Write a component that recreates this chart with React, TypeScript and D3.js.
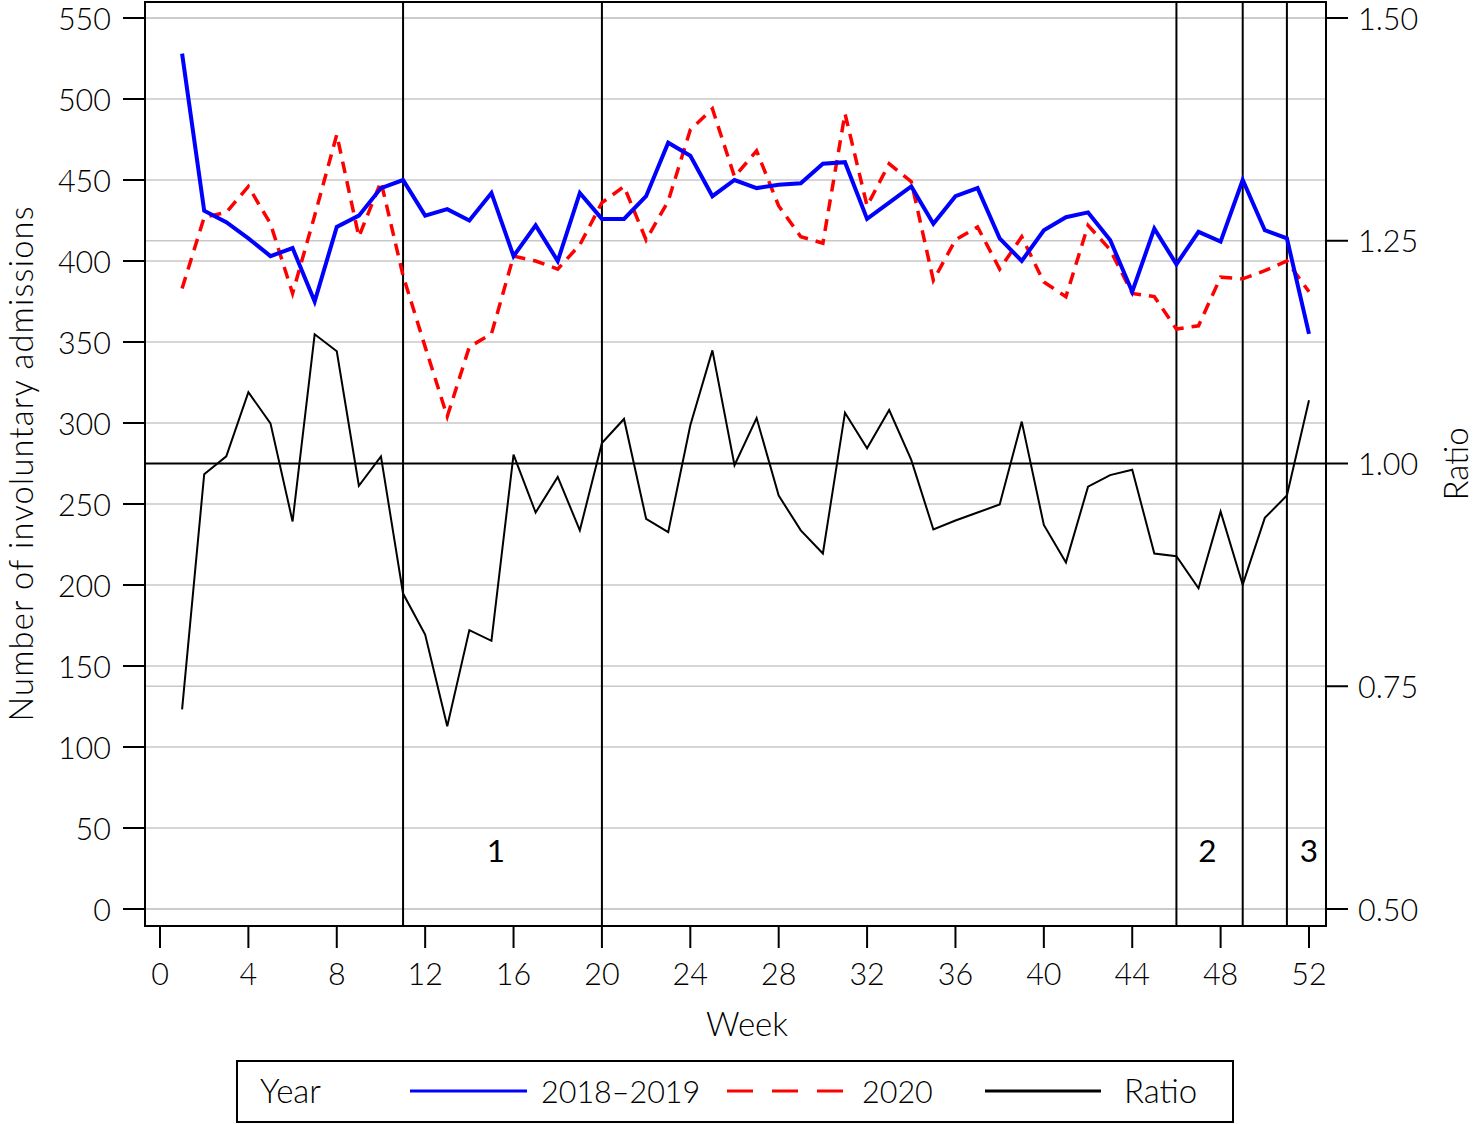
import React from "react";
import * as d3 from "d3";

const weeks = [1,2,3,4,5,6,7,8,9,10,11,12,13,14,15,16,17,18,19,20,21,22,23,24,25,26,27,28,29,30,31,32,33,34,35,36,37,38,39,40,41,42,43,44,45,46,47,48,49,50,51,52];
const admissions1819 = [528,431,424,414,403,408,375,421,428,445,450,428,432,425,442,403,422,400,442,426,426,440,473,465,440,450,445,447,448,460,461,426,436,446,423,440,445,414,400,419,427,430,413,381,420,398,418,412,450,419,414,355];
const admissions2020 = [383,427,430,446,423,380,428,478,415,449,391,347,304,347,355,403,400,395,410,436,446,413,437,481,494,452,468,434,415,411,491,434,460,449,388,413,421,395,415,387,378,422,407,380,378,358,360,390,389,394,400,381];
const ratio = [0.724,0.988,1.008,1.080,1.045,0.935,1.145,1.126,0.975,1.008,0.854,0.808,0.705,0.813,0.801,1.010,0.945,0.985,0.925,1.023,1.050,0.938,0.923,1.043,1.127,0.998,1.051,0.964,0.925,0.899,1.057,1.017,1.060,1.004,0.926,0.936,0.945,0.954,1.047,0.931,0.889,0.974,0.987,0.993,0.899,0.896,0.860,0.946,0.864,0.939,0.964,1.071];
const leftTicks = [0,50,100,150,200,250,300,350,400,450,500,550];
const rightTicks = [0.5,0.75,1.0,1.25,1.5];
const rightTickLabels = ["0.50","0.75","1.00","1.25","1.50"];
const xTicks = [0,4,8,12,16,20,24,28,32,36,40,44,48,52];
const periodBreaks = [11,20,46,49,51];
const periodLabels = ["1","2","3"];
const periodLabelWeeks = [15.2,47.4,52];
const legendLabels = ["2018\u20132019","2020","Ratio"];

const FONT = "Lato, 'Noto Sans', sans-serif";
const FS = 33; // words
const FN = 30.5; // numbers
const FW = 300;

export default function App() {
  const W = 1478, H = 1124;
  const frame = { l: 145, r: 1326, t: 2, b: 926 };
  const x = d3.scaleLinear().domain([0, 52]).range([160, 1309]);
  const yL = d3.scaleLinear().domain([0, 550]).range([909, 18]);
  const yR = d3.scaleLinear().domain([0.5, 1.5]).range([909, 18]);

  const lineL = (vals: number[]) =>
    d3.line<number>().x((_, i) => x(weeks[i])).y((d) => yL(d))(vals) || "";
  const lineR = d3.line<number>().x((_, i) => x(weeks[i])).y((d) => yR(d))(ratio) || "";

  const legendY = 1091;

  return (
    <svg
      width={W}
      height={H}
      style={{ position: "absolute", left: 0, top: 0, background: "#fff" }}
      fontFamily={FONT}
      fontWeight={FW}
    >
      <rect x={0} y={0} width={W} height={H} fill="#fff" />
      {/* gridlines */}
      {leftTicks.map((t) => (
        <line key={"gl" + t} x1={frame.l} x2={frame.r} y1={yL(t)} y2={yL(t)} stroke="#c8c8c8" strokeWidth={1.5} />
      ))}
      {rightTicks.filter((t) => t !== 1).map((t) => (
        <line key={"gr" + t} x1={frame.l} x2={frame.r} y1={yR(t)} y2={yR(t)} stroke="#c8c8c8" strokeWidth={1.5} />
      ))}
      {/* reference line ratio = 1 */}
      <line x1={frame.l} x2={frame.r} y1={yR(1)} y2={yR(1)} stroke="#000" strokeWidth={2} />
      {/* period breaks */}
      {periodBreaks.map((w) => (
        <line key={"pb" + w} x1={x(w)} x2={x(w)} y1={frame.t} y2={frame.b} stroke="#000" strokeWidth={2} />
      ))}
      {periodLabels.map((l, i) => (
        <text key={"pl" + l} x={x(periodLabelWeeks[i])} y={862} fontSize={FN + 1} fontWeight={400} textAnchor="middle" fill="#000">
          {l}
        </text>
      ))}
      {/* series */}
      <path d={lineR} fill="none" stroke="#000" strokeWidth={2} strokeLinejoin="miter" />
      <path d={lineL(admissions2020)} fill="none" stroke="#ff0000" strokeWidth={3.5} strokeDasharray="12,8" />
      <path d={lineL(admissions1819)} fill="none" stroke="#0000ff" strokeWidth={4} strokeLinejoin="miter" />
      {/* frame */}
      <rect x={frame.l} y={frame.t} width={frame.r - frame.l} height={frame.b - frame.t} fill="none" stroke="#000" strokeWidth={2} />
      {/* left axis */}
      {leftTicks.map((t) => (
        <g key={"lt" + t}>
          <line x1={frame.l - 22} x2={frame.l} y1={yL(t)} y2={yL(t)} stroke="#000" strokeWidth={2} />
          <text x={111} y={yL(t) + 11.5} fontSize={FN} textAnchor="end" fill="#000">
            {t}
          </text>
        </g>
      ))}
      {/* right axis */}
      {rightTicks.map((t, i) => (
        <g key={"rt" + t}>
          <line x1={frame.r} x2={frame.r + 22} y1={yR(t)} y2={yR(t)} stroke="#000" strokeWidth={2} />
          <text x={1358} y={yR(t) + 11.5} fontSize={FN} textAnchor="start" fill="#000">
            {rightTickLabels[i]}
          </text>
        </g>
      ))}
      {/* x axis */}
      {xTicks.map((t) => (
        <g key={"xt" + t}>
          <line x1={x(t)} x2={x(t)} y1={frame.b} y2={frame.b + 22} stroke="#000" strokeWidth={2} />
          <text x={x(t)} y={985} fontSize={FN} textAnchor="middle" fill="#000">
            {t}
          </text>
        </g>
      ))}
      {/* axis titles */}
      <text x={747} y={1036} fontSize={FS} textAnchor="middle" fill="#000">Week</text>
      <text
        transform="translate(33,464) rotate(-90)"
        fontSize={32.5}
        textAnchor="middle"
        fill="#000"
        textLength={515}
        lengthAdjust="spacing"
      >
        Number of involuntary admissions
      </text>
      <text transform="translate(1468,464) rotate(-90)" fontSize={FS} textAnchor="middle" fill="#000">
        Ratio
      </text>
      {/* legend */}
      <rect x={237} y={1061} width={996} height={61} fill="none" stroke="#000" strokeWidth={2} />
      <text x={260} y={legendY + 12} fontSize={FS} fill="#000">Year</text>
      <line x1={410} x2={527} y1={legendY} y2={legendY} stroke="#0000ff" strokeWidth={3} />
      <text x={541} y={legendY + 11.5} fontSize={FN} fill="#000">{legendLabels[0]}</text>
      <line x1={727} x2={843} y1={legendY} y2={legendY} stroke="#ff0000" strokeWidth={3} strokeDasharray="26,19" />
      <text x={862} y={legendY + 11.5} fontSize={FN} fill="#000">{legendLabels[1]}</text>
      <line x1={985} x2={1101} y1={legendY} y2={legendY} stroke="#000" strokeWidth={3} />
      <text x={1124} y={legendY + 12} fontSize={FS} fill="#000">{legendLabels[2]}</text>
    </svg>
  );
}
